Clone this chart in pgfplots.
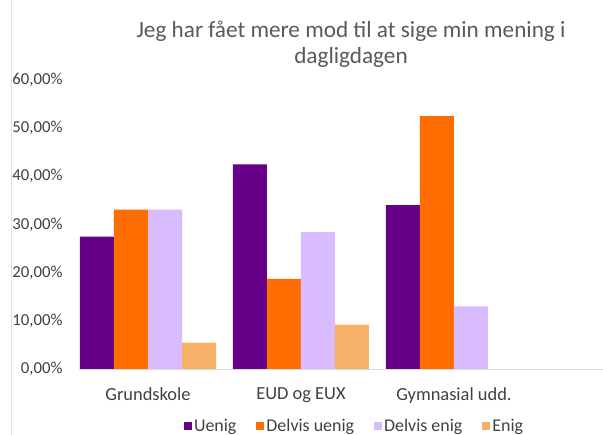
\documentclass[border=0pt]{standalone}
\usepackage{fontspec}
\setmainfont{Carlito}
\usepackage{pgfplots}
\pgfplotsset{compat=1.18}
\definecolor{cUenig}{HTML}{660088}
\definecolor{cDU}{HTML}{FF6D00}
\definecolor{cDE}{HTML}{D9BBFF}
\definecolor{cEnig}{HTML}{F7B068}
\definecolor{txt}{HTML}{404040}
\definecolor{ttl}{HTML}{595959}
\begin{document}
\begin{tikzpicture}
\useasboundingbox (0,0) rectangle (603bp,435bp);
\draw[black!12, line width=1bp] (11bp,0) -- (11bp,435bp);
\node[ttl, font=\fontsize{23.3}{27}\selectfont] at (351bp,404bp) {Jeg har fået mere mod til at sige min mening i};
\node[ttl, font=\fontsize{23.3}{27}\selectfont] at (351bp,378bp) {dagligdagen};
\begin{axis}[
  at={(79bp,66bp)}, anchor=south west, scale only axis,
  width=524bp, height=289bp,
  xmin=-0.451, xmax=2.974, ymin=0, ymax=0.6,
  ybar=0pt, bar width=34bp,
  axis lines=left,
  y axis line style={draw=none},
  x axis line style={draw=black!15, line width=1bp, -},
  major tick length=0pt,
  xtick={0,1,2},
  xticklabels={Grundskole, EUD og EUX, Gymnasial udd.},
  ytick={0,0.1,0.2,0.3,0.4,0.5,0.6},
  yticklabels={{0,00\%},{10,00\%},{20,00\%},{30,00\%},{40,00\%},{50,00\%},{60,00\%}},
  yticklabel style={font=\fontsize{16.8}{18}\selectfont, text=txt, xshift=-13bp},
  xticklabel style={font=\fontsize{18.5}{20}\selectfont, text=txt, yshift=-15bp},
  legend style={at={(0.160,-0.197)}, anchor=west, draw=none, fill=none,
    font=\fontsize{18}{20}\selectfont, text=txt,
    nodes={inner sep=2bp}},
  legend columns=4,
  legend image code/.code={\path (0bp,0bp); \fill[#1] (18bp,-4bp) rectangle (26bp,4bp);},
]
\addplot[fill=cUenig, draw=none] coordinates {(0,0.275) (1,0.425) (2,0.34)};
\addplot[fill=cDU, draw=none] coordinates {(0,0.331) (1,0.187) (2,0.525)};
\addplot[fill=cDE, draw=none] coordinates {(0,0.331) (1,0.284) (2,0.13)};
\addplot[fill=cEnig, draw=none] coordinates {(0,0.055) (1,0.092) (2,0)};
\legend{Uenig, Delvis uenig, Delvis enig, Enig}
\end{axis}
\end{tikzpicture}
\end{document}
